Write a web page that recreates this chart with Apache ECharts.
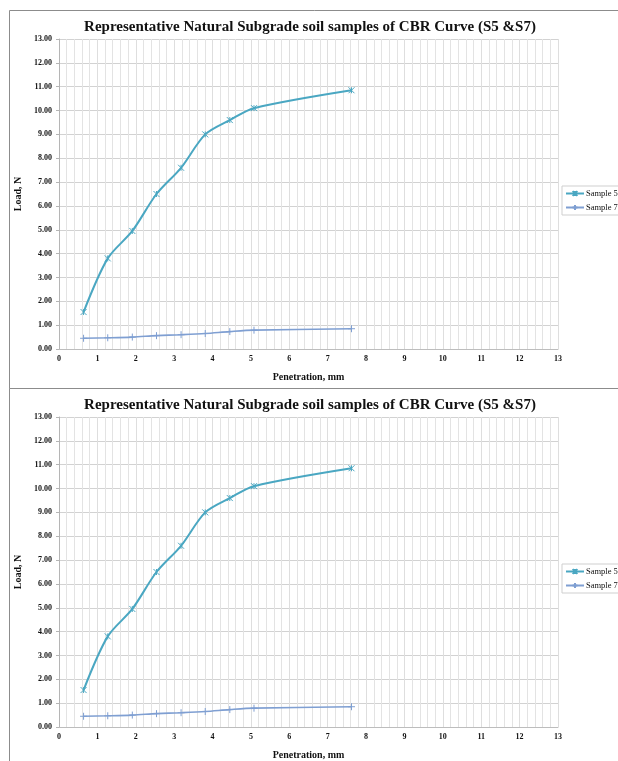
<!DOCTYPE html>
<html>
<head>
<meta charset="utf-8">
<script src="https://cdn.jsdelivr.net/npm/echarts@6/dist/echarts.min.js"></script>
<style>
  html, body { margin: 0; padding: 0; background: #fff; overflow: hidden; }
  #main { width: 618px; height: 761px; }
</style>
</head>
<body>
<div id="main"></div>
<script>
// CBR test: penetration (mm) vs load for two subgrade soil samples
const penetration = [0.64, 1.27, 1.91, 2.54, 3.18, 3.81, 4.45, 5.08, 7.62];
const sample5 = [1.55, 3.80, 4.95, 6.50, 7.60, 9.00, 9.60, 10.10, 10.85];
const sample7 = [0.45, 0.47, 0.50, 0.56, 0.60, 0.65, 0.73, 0.79, 0.85];
const seriesNames = ['Sample 5', 'Sample 7'];
const chartTitle = 'Representative Natural Subgrade soil samples of CBR Curve (S5 &S7)';
const xAxisTitle = 'Penetration, mm';
const yAxisTitle = 'Load, N';

const colors = ['#4aa7c2', '#7f9fd2'];
const serif = '"Liberation Serif", "DejaVu Serif", serif';
const starSymbol = 'path://M0,0L10,10M10,0L0,10M5,0L5,10';
const plusSymbol = 'path://M5,0L5,10M0,5L10,5';

const panelTops = [10, 388];
const panelHeight = 378;

function pairs(ys) { return penetration.map((x, i) => [x, ys[i]]); }

const option = {
  animation: false,
  backgroundColor: '#fff',
  textStyle: { fontFamily: serif },
  title: [], legend: [], grid: [], xAxis: [], yAxis: [], series: [],
  graphic: []
};

panelTops.forEach((top, k) => {
  option.graphic.push({
    type: 'rect', silent: true,
    shape: { x: 9.5, y: top + 0.5, width: 700, height: panelHeight },
    style: { fill: 'none', stroke: '#8c8c8c', lineWidth: 1 }
  });
  option.title.push({
    text: chartTitle, left: 305, textAlign: 'center', top: top + 5,
    textStyle: { fontFamily: serif, fontWeight: 'bold', fontSize: 15, color: '#111' }
  });
  option.legend.push({
    data: seriesNames,
    orient: 'vertical', left: 562, top: top + 176,
    itemWidth: 18, itemHeight: 6, itemGap: 5, padding: [3, 4, 3, 3],
    borderColor: '#cfcfcf', borderWidth: 1,
    textStyle: { fontFamily: serif, fontSize: 8.5, color: '#111', padding: [0, 0, 0, -3] }
  });
  option.grid.push({ left: 59, right: 60, top: top + 29, height: 310, containLabel: false });
  option.xAxis.push({
    gridIndex: k, type: 'value', min: 0, max: 13, interval: 1,
    name: xAxisTitle, nameLocation: 'middle', nameGap: 23,
    nameTextStyle: { fontFamily: serif, fontWeight: 'bold', fontSize: 10, color: '#111' },
    axisLine: { show: true, lineStyle: { color: '#bdbdbd' } },
    axisTick: { show: false },
    axisLabel: { fontFamily: serif, fontWeight: 'bold', fontSize: 8, color: '#111', margin: 6 },
    splitLine: { show: true, lineStyle: { color: '#dedede', width: 1 } },
    minorTick: { show: false, splitNumber: 5 },
    minorSplitLine: { show: true, lineStyle: { color: '#e3e3e3', width: 1 } }
  });
  option.yAxis.push({
    gridIndex: k, type: 'value', min: 0, max: 13, interval: 1,
    name: yAxisTitle, nameLocation: 'middle', nameGap: 31, nameRotate: 90,
    nameTextStyle: { fontFamily: serif, fontWeight: 'bold', fontSize: 10, color: '#111' },
    axisLine: { show: true, lineStyle: { color: '#b5b5b5' } },
    axisTick: { show: true, length: 3, lineStyle: { color: '#b5b5b5' } },
    axisLabel: {
      fontFamily: serif, fontWeight: 'bold', fontSize: 8, color: '#111', margin: 7,
      formatter: v => v.toFixed(2)
    },
    splitLine: { show: true, lineStyle: { color: '#d2d2d2', width: 1 } }
  });
  [sample5, sample7].forEach((ys, i) => {
    option.series.push({
      name: seriesNames[i], type: 'line', xAxisIndex: k, yAxisIndex: k,
      data: pairs(ys), smooth: 0.3,
      symbol: i === 0 ? starSymbol : plusSymbol,
      symbolSize: i === 0 ? 6 : 7,
      lineStyle: { color: colors[i], width: i === 0 ? 2 : 1.6 },
      itemStyle: { color: colors[i], borderColor: colors[i], borderWidth: 1 }
    });
  });
});

echarts.init(document.getElementById('main')).setOption(option);
</script>
</body>
</html>
